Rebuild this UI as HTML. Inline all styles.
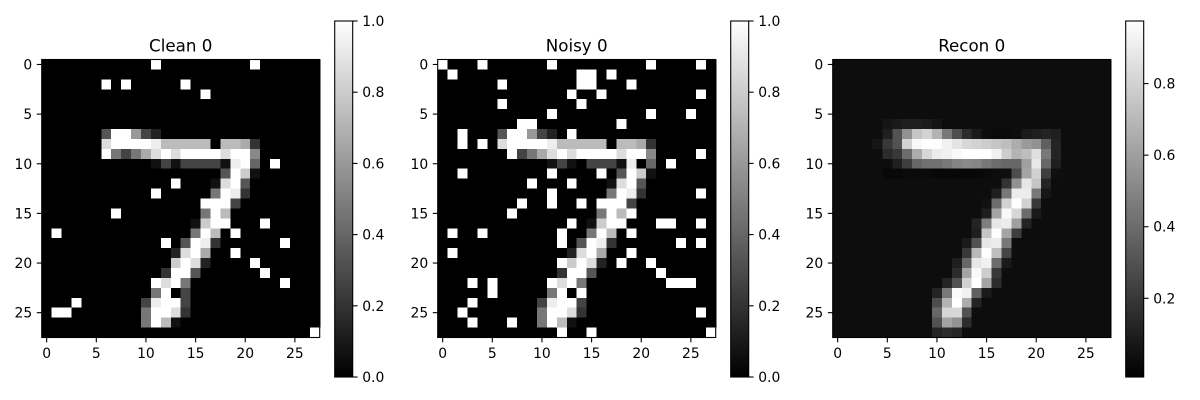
<!DOCTYPE html>
<html>
<head>
<meta charset="utf-8">
<style>
  html,body{margin:0;padding:0;background:#fff;}
  svg{display:block;font-family:"DejaVu Sans","Liberation Sans",sans-serif;}
</style>
</head>
<body>
<svg id="fig" width="1200" height="400" viewBox="0 0 1200 400" xmlns="http://www.w3.org/2000/svg">
  <defs>
    <linearGradient id="grayGrad" x1="0" y1="1" x2="0" y2="0">
      <stop offset="0" stop-color="#000"/>
      <stop offset="1" stop-color="#fff"/>
    </linearGradient>
  </defs>
</svg>
<script>
// ---- data (hex run encoding: [startCol, "hex values"], value = hex/15) ----
const cleanRows = [
  [[11,"f"],[21,"f"]],
  [],
  [[6,"f"],[8,"f"],[14,"f"]],
  [[16,"f"]],
  [],
  [],
  [],
  [[6,"5ff942"]],
  [[6,"dffffebbbbb0bba3"]],
  [[6,"f747adfdffffdff8"]],
  [[11,"14144441ef6"],[23,"f"]],
  [[18,"5fc1"]],
  [[13,"f"],[17,"1df5"]],
  [[11,"f"],[17,"7fe3"]],
  [[16,"fff4"]],
  [[7,"f"],[16,"7fb0"]],
  [[15,"1cff"],[22,"f"]],
  [[1,"f"],[15,"7fb"],[19,"f"]],
  [[12,"f"],[14,"5fe3"],[24,"f"]],
  [[13,"2dfa"],[19,"f"]],
  [[12,"0cfd2"],[21,"f"]],
  [[12,"3ff5"],[22,"f"]],
  [[11,"fdf7"],[24,"f"]],
  [[11,"7f04"]],
  [[3,"f"],[10,"4eff4"]],
  [[1,"ff"],[10,"7ffd3"]],
  [[10,"7fb1"]],
  [[27,"f"]]
];
const noisyRows = [
  [[0,"f"],[4,"f"],[11,"f"],[21,"f"],[26,"f"]],
  [[1,"f"],[14,"ff"],[17,"f"]],
  [[6,"f"],[14,"ff"],[19,"f"]],
  [[13,"f"],[16,"f"],[26,"f"]],
  [[6,"f"],[14,"f"]],
  [[11,"f"],[21,"f"],[25,"f"]],
  [[8,"ff"],[18,"f"]],
  [[2,"f"],[6,"5ff942"],[13,"f"]],
  [[2,"f"],[4,"f"],[6,"dffffebbbbb0bba3"]],
  [[7,"f47adfdffffdff8"],[26,"f"]],
  [[11,"14104441e06"],[23,"f"]],
  [[2,"f"],[11,"f"],[16,"f05fc1"]],
  [[9,"f"],[13,"f"],[17,"1df5"]],
  [[11,"f"],[17,"7fe3"],[26,"f"]],
  [[8,"f"],[11,"f"],[14,"f"],[16,"fff4"]],
  [[7,"f"],[16,"7fbf"]],
  [[13,"f"],[15,"1cff"],[22,"ff"],[26,"f"]],
  [[1,"f"],[4,"f"],[12,"f"],[15,"7fb0f"]],
  [[12,"f"],[14,"5fe3"],[24,"f"],[26,"f"]],
  [[1,"f"],[13,"2dfa"],[19,"f"]],
  [[12,"fcfd2"],[18,"f"],[21,"f"]],
  [[12,"3ff5"],[22,"f"]],
  [[3,"f"],[5,"f"],[11,"fdf7"],[23,"fff"]],
  [[5,"f"],[11,"7f0f"]],
  [[3,"f"],[10,"4eff4"]],
  [[2,"f"],[10,"7ffd3"],[26,"f"]],
  [[3,"f"],[7,"f"],[10,"7fb1"]],
  [[12,"f"],[15,"f"],[27,"f"]]
];
const reconBackground = 0.03;
const reconRows = [
  [], [], [], [], [], [],
  [[5,[0.06,0.08,0.1,0.1,0.09,0.06]]],
  [[5,[0.1,0.3,0.55,0.75,0.8,0.68,0.45,0.28,0.15,0.08,0.03,0.02,0.02,0.03,0.08,0.1,0.12,0.1]]],
  [[4,[0.06,0.2,0.3,0.8,0.95,1,0.97,0.92,0.87,0.82,0.8,0.78,0.75,0.72,0.65,0.58,0.55,0.35,0.12]]],
  [[5,[0.15,0.2,0.4,0.65,0.82,0.9,0.92,0.95,0.98,1,1,0.92,0.78,0.68,0.72,0.85,0.45,0.12]]],
  [[5,[0.03,0.1,0.22,0.38,0.42,0.42,0.45,0.5,0.52,0.5,0.45,0.4,0.38,0.38,0.6,0.88,0.38,0.1]]],
  [[5,[0.01,0.01,0.02,0.02,0.02,0.01,0.01,0.01,0.01,0.01,0.02,0.03,0.04,0.28,0.62,0.8,0.22,0.04]]],
  [[16,[0.03,0.18,0.55,0.88,0.75,0.12]]],
  [[16,[0.1,0.45,0.9,0.9,0.45,0.07]]],
  [[15,[0.05,0.4,0.8,1,0.8,0.2]]],
  [[15,[0.1,0.62,0.95,0.82,0.4,0.08]]],
  [[14,[0.12,0.47,0.88,0.9,0.6,0.12]]],
  [[14,[0.1,0.75,0.97,0.62,0.22]]],
  [[13,[0.08,0.3,0.88,0.9,0.45]]],
  [[13,[0.2,0.7,0.98,0.72,0.25]]],
  [[12,[0.1,0.38,0.88,0.92,0.4,0.08]]],
  [[12,[0.15,0.62,0.95,0.78,0.2]]],
  [[11,[0.12,0.3,0.8,0.98,0.62,0.15]]],
  [[10,[0.12,0.45,0.95,0.92,0.35,0.08]]],
  [[10,[0.28,0.68,0.98,0.65,0.12]]],
  [[10,[0.38,0.82,0.82,0.3]]],
  [[10,[0.3,0.62,0.55,0.15]]],
  [[10,[0.12,0.15,0.13]]]
];
const panelTitles = ["Clean 0", "Noisy 0", "Recon 0"];
const axisTicks = [0, 5, 10, 15, 20, 25];
const cbTicksFull = [0.0, 0.2, 0.4, 0.6, 0.8, 1.0];
const cbTicksRecon = [0.2, 0.4, 0.6, 0.8];
const reconRange = [-0.02, 0.975];

// ---- helpers ----
const NS = "http://www.w3.org/2000/svg";
const svg = document.getElementById("fig");
function mk(tag, attrs, parent) {
  const el = document.createElementNS(NS, tag);
  for (const k in attrs) el.setAttribute(k, attrs[k]);
  (parent || svg).appendChild(el);
  return el;
}
function decodeHex(rows) {
  const g = [];
  for (let r = 0; r < 28; r++) {
    const row = new Array(28).fill(0);
    (rows[r] || []).forEach(([s, run]) => {
      for (let i = 0; i < run.length; i++) row[s + i] = parseInt(run[i], 16) / 15;
    });
    g.push(row);
  }
  return g;
}
function decodeNum(rows, bg) {
  const g = [];
  for (let r = 0; r < 28; r++) {
    const row = new Array(28).fill(bg);
    (rows[r] || []).forEach(([s, vals]) => {
      vals.forEach((v, i) => { row[s + i] = v; });
    });
    g.push(row);
  }
  return g;
}

const N = 28, SIZE = 278, TOP = 59.5;
const CB_TOP = 21, CB_H = 356, CB_W = 18;
const panels = [
  { left: 41.7, grid: decodeHex(cleanRows), vmin: 0, vmax: 1, ticks: cbTicksFull },
  { left: 437.7, grid: decodeHex(noisyRows), vmin: 0, vmax: 1, ticks: cbTicksFull },
  { left: 832.7, grid: decodeNum(reconRows, reconBackground), vmin: reconRange[0], vmax: reconRange[1], ticks: cbTicksRecon }
];

panels.forEach((p, idx) => {
  const cell = SIZE / N;
  const xScale = c => p.left + c * cell;
  const yScale = r => TOP + r * cell;
  const norm = v => Math.max(0, Math.min(1, (v - p.vmin) / (p.vmax - p.vmin)));

  const g = mk("g", {});
  
  

  const cells = mk("g", { "shape-rendering": "crispEdges" }, g);
  
  
  for (let r = 0; r < N; r++) {
    for (let c = 0; c < N; c++) {
      const gv = Math.round(255 * norm(p.grid[r][c]));
      const rect = mk("rect", {
        x: xScale(c).toFixed(2), y: yScale(r).toFixed(2),
        width: (cell + 0.6).toFixed(2), height: (cell + 0.6).toFixed(2),
        fill: `rgb(${gv},${gv},${gv})`
      }, cells);
      
      
    }
  }
  const frame = mk("rect", { x: p.left, y: TOP, width: SIZE, height: SIZE, fill: "none", stroke: "#000", "stroke-width": 1.1 }, g);
  
  

  const t = mk("text", { x: p.left + SIZE / 2, y: 51.5, "text-anchor": "middle", "font-size": "16.7px", fill: "#000" }, g);
  t.textContent = panelTitles[idx];
  
  

  axisTicks.forEach(tk => {
    const cx = xScale(tk + 0.5), cy = yScale(tk + 0.5);
    const xt = mk("line", { x1: cx, x2: cx, y1: TOP + SIZE, y2: TOP + SIZE + 4.9, stroke: "#000", "stroke-width": 1.1 }, g);
    
    
    const xl = mk("text", { x: cx, y: TOP + SIZE + 20.5, "text-anchor": "middle", "font-size": "13.9px", fill: "#000" }, g);
    xl.textContent = tk;
    
    
    const yt = mk("line", { x1: p.left - 4.9, x2: p.left, y1: cy, y2: cy, stroke: "#000", "stroke-width": 1.1 }, g);
    
    
    const yl = mk("text", { x: p.left - 9.5, y: cy + 5, "text-anchor": "end", "font-size": "13.9px", fill: "#000" }, g);
    yl.textContent = tk;
    
    
  });

  const cbLeft = p.left + SIZE + 15;
  const cbScale = v => CB_TOP + CB_H - (v - p.vmin) / (p.vmax - p.vmin) * CB_H;
  const cb = mk("rect", { x: cbLeft, y: CB_TOP, width: CB_W, height: CB_H, fill: "url(#grayGrad)", stroke: "#000", "stroke-width": 1.1 }, g);
  
  
  p.ticks.forEach(tv => {
    const y = cbScale(tv);
    const ln = mk("line", { x1: cbLeft + CB_W, x2: cbLeft + CB_W + 4.9, y1: y, y2: y, stroke: "#000", "stroke-width": 1.1 }, g);
    
    
    const lb = mk("text", { x: cbLeft + CB_W + 9.5, y: y + 5, "font-size": "13.9px", fill: "#000" }, g);
    lb.textContent = tv.toFixed(1);
    
    
  });
});
</script>
</body>
</html>
